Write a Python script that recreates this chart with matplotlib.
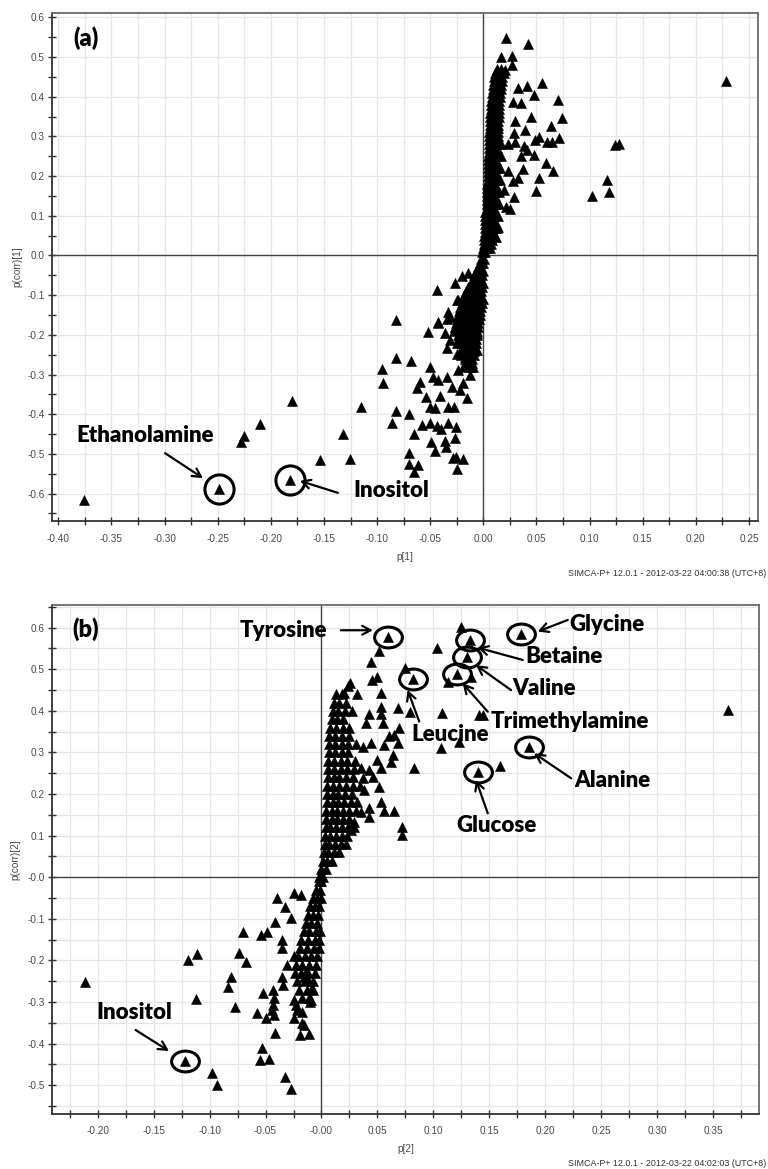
import matplotlib
matplotlib.use("Agg")
import matplotlib.pyplot as plt
from matplotlib.path import Path
from matplotlib.transforms import Affine2D
from matplotlib.ticker import FixedLocator, MultipleLocator

# ------------------------------------------------------------------ data (a)
a_scatter_x = [0.0214, 0.0421, 0.0164, 0.027, 0.027, 0.0132, 0.0207, 0.0553, 0.0327, 0.0408,
               0.0477, 0.0703, 0.0283, 0.0352, 0.0738, 0.0446, 0.0296, 0.0635, 0.039, 0.0289,
               0.0527, 0.049, 0.0597, 0.0647, 0.071, 0.0383, 0.0301, 0.0233, 0.0408, 0.0352,
               0.0477, 0.059, 0.0377, 0.0653, 0.0233, 0.0527, 0.0327, 0.0277, 0.0496, 0.0289,
               0.0195, 0.0251, 0.0214, 0.0141, 0.012, 0.228, 0.1237, 0.128, 0.116, 0.118,
               0.1024,
               -0.3757, -0.2279, -0.2253, -0.2105, -0.1804, -0.1538, -0.1255, -0.1318, -0.1152,
               -0.0942, -0.0957, -0.0822, -0.0822, -0.0822, -0.086, -0.0518, -0.0424, -0.0684,
               -0.0502, -0.0596, -0.0627, -0.054, -0.047, -0.0424, -0.0345, -0.0298, -0.0408,
               -0.0502, -0.0455, -0.0703, -0.065, -0.058, -0.0502, -0.0439, -0.0398, -0.033,
               -0.0257, -0.036, -0.0266, -0.0492, -0.0455, -0.0351, -0.0703, -0.0703, -0.065,
               -0.0612, -0.0288, -0.0245, -0.0188, -0.0257, -0.033, -0.028, -0.0156, -0.0219,
               -0.0125, -0.0188, -0.0235, -0.0094, -0.011, -0.0062, -0.0172, -0.025, -0.0345,
               -0.0314, -0.022, -0.036, -0.0156, -0.0266, -0.0188, -0.011, -0.0314, -0.0062,
               -0.022, -0.0141, -0.0078, -0.025, -0.0439, -0.0266, -0.0204, -0.0141, -0.0235,
               -0.033, -0.0424, -0.0345]
a_scatter_y = [0.549, 0.534, 0.500, 0.502, 0.479, 0.462, 0.467, 0.435, 0.421, 0.426,
               0.404, 0.391, 0.387, 0.384, 0.346, 0.349, 0.339, 0.327, 0.317, 0.309,
               0.299, 0.290, 0.287, 0.287, 0.295, 0.277, 0.285, 0.282, 0.265, 0.250,
               0.252, 0.233, 0.219, 0.212, 0.212, 0.196, 0.196, 0.187, 0.163, 0.148,
               0.164, 0.118, 0.122, 0.072, 0.047, 0.439, 0.279, 0.282, 0.191, 0.159,
               0.150,
               -0.615, -0.4695, -0.455, -0.4257, -0.367, -0.5156, -0.514, -0.451, -0.383,
               -0.321, -0.2864, -0.2595, -0.163, -0.391, -0.4216, -0.1924, -0.169, -0.2655,
               -0.2806, -0.318, -0.335, -0.356, -0.307, -0.314, -0.3057, -0.331, -0.354,
               -0.381, -0.385, -0.400, -0.450, -0.4275, -0.4232, -0.430, -0.436, -0.423,
               -0.4317, -0.467, -0.461, -0.4695, -0.492, -0.482, -0.4988, -0.5257, -0.545,
               -0.528, -0.511, -0.539, -0.514, -0.507, -0.381, -0.381, -0.360, -0.339,
               -0.3015, -0.3224, -0.289, -0.2806, -0.247, -0.2385, -0.2554, -0.247, -0.234,
               -0.2134, -0.2217, -0.1965, -0.1965, -0.1798, -0.1713, -0.167, -0.1546, -0.1965,
               -0.138, -0.121, -0.104, -0.1126, -0.0874, -0.069, -0.052, -0.045, -0.1126,
               -0.142, -0.167, -0.159]

# dense band of loadings close to the origin, read row by row
a_core_row_y = [0.47, 0.46, 0.45, 0.44, 0.43, 0.42, 0.41, 0.40, 0.39, 0.38, 0.37, 0.36, 0.35,
                0.34, 0.33, 0.32, 0.31, 0.30, 0.29, 0.28, 0.27, 0.26, 0.25, 0.24, 0.23, 0.22,
                0.21, 0.20, 0.19, 0.18, 0.17, 0.16, 0.15, 0.14, 0.13, 0.12, 0.11, 0.10, 0.09,
                0.08, 0.07, 0.06, 0.05, 0.04, 0.03, 0.02, 0.01,
                -0.01, -0.02, -0.03, -0.04, -0.05, -0.06, -0.07, -0.08, -0.09, -0.10, -0.11,
                -0.12, -0.13, -0.14, -0.15, -0.16, -0.17, -0.18, -0.19, -0.20, -0.21, -0.22,
                -0.23, -0.24, -0.25, -0.26, -0.27, -0.28]
a_core_row_x = [[0.013, 0.017], [0.011, 0.015, 0.019], [0.010, 0.014, 0.018], [0.010, 0.014, 0.018],
                [0.009, 0.013, 0.017], [0.009, 0.013, 0.017], [0.008, 0.012, 0.016],
                [0.008, 0.012, 0.016], [0.007, 0.011, 0.015], [0.007, 0.011, 0.015],
                [0.007, 0.011, 0.015], [0.006, 0.010, 0.015], [0.006, 0.010, 0.015],
                [0.006, 0.010, 0.014], [0.006, 0.010, 0.014], [0.006, 0.010, 0.014],
                [0.005, 0.009, 0.014], [0.005, 0.009, 0.014], [0.005, 0.009, 0.013],
                [0.005, 0.009, 0.013, 0.017], [0.005, 0.009, 0.013], [0.005, 0.009, 0.013],
                [0.004, 0.008, 0.013, 0.017], [0.004, 0.008, 0.012], [0.004, 0.008, 0.012],
                [0.004, 0.008, 0.012, 0.016], [0.004, 0.008, 0.012], [0.004, 0.008, 0.012],
                [0.004, 0.008, 0.012, 0.016], [0.003, 0.007, 0.011], [0.003, 0.007, 0.011],
                [0.003, 0.007, 0.011, 0.015], [0.003, 0.007, 0.011], [0.003, 0.007, 0.011],
                [0.003, 0.007, 0.011, 0.015], [0.003, 0.006, 0.010], [0.002, 0.006, 0.010],
                [0.002, 0.006, 0.010, 0.014], [0.002, 0.006, 0.010], [0.002, 0.005, 0.009],
                [0.002, 0.005, 0.009, 0.013], [0.002, 0.005, 0.009], [0.001, 0.005, 0.008],
                [0.001, 0.004, 0.008], [0.001, 0.004, 0.007], [0.000, 0.003, 0.006],
                [-0.001, 0.002],
                [-0.002, 0.001], [-0.003, 0.000], [-0.005, -0.002], [-0.007, -0.003, 0.000],
                [-0.009, -0.005, -0.001], [-0.010, -0.006, -0.002], [-0.012, -0.008, -0.004, 0.000],
                [-0.014, -0.010, -0.005, -0.001], [-0.016, -0.011, -0.007, -0.002],
                [-0.018, -0.013, -0.008, -0.003], [-0.019, -0.014, -0.009, -0.004, 0.000],
                [-0.020, -0.015, -0.010, -0.005, -0.001], [-0.022, -0.017, -0.012, -0.007, -0.002],
                [-0.023, -0.018, -0.013, -0.008, -0.003], [-0.024, -0.019, -0.014, -0.009, -0.003],
                [-0.025, -0.020, -0.015, -0.010, -0.004], [-0.026, -0.021, -0.016, -0.011, -0.005],
                [-0.027, -0.022, -0.016, -0.011, -0.005], [-0.028, -0.022, -0.017, -0.012, -0.006],
                [-0.024, -0.018, -0.012, -0.006], [-0.024, -0.018, -0.012, -0.007],
                [-0.025, -0.019, -0.013, -0.007], [-0.020, -0.014, -0.008],
                [-0.021, -0.015, -0.009], [-0.021, -0.015, -0.009], [-0.017, -0.011],
                [-0.017, -0.011], [-0.018, -0.012]]

a_named = ["Ethanolamine", "Inositol"]
a_named_x = [-0.2492, -0.182]
a_named_y = [-0.589, -0.566]

a_xticks = [-0.40, -0.35, -0.30, -0.25, -0.20, -0.15, -0.10, -0.05, 0.00, 0.05, 0.10, 0.15, 0.20, 0.25]
a_xticklabels = ["-0.40", "-0.35", "-0.30", "-0.25", "-0.20", "-0.15", "-0.10", "-0.05",
                 "0.00", "0.05", "0.10", "0.15", "0.20", "0.25"]
a_yticks = [-0.6, -0.5, -0.4, -0.3, -0.2, -0.1, 0.0, 0.1, 0.2, 0.3, 0.4, 0.5, 0.6]
a_yticklabels = ["-0.6", "-0.5", "-0.4", "-0.3", "-0.2", "-0.1", "0.0",
                 "0.1", "0.2", "0.3", "0.4", "0.5", "0.6"]

# ------------------------------------------------------------------ data (b)
b_scatter_x = [0.1246, 0.1031, 0.1335, 0.1127, 0.0745, 0.1073, 0.141, 0.144, 0.123, 0.1067,
               0.1595, 0.0828, 0.0685, 0.0793, 0.0716, 0.0716, 0.065, 0.056, 0.0515, 0.0441,
               0.050, 0.045, 0.053, 0.0256, 0.0202, 0.0316, 0.053, 0.053, 0.0545, 0.0426,
               0.0694, 0.0605, 0.065, 0.068, 0.0441, 0.0367, 0.0396, 0.056, 0.0635, 0.062,
               0.050, 0.035, 0.0426, 0.053, 0.0367, 0.0456, 0.0515, 0.038, 0.053, 0.0426,
               0.0426, 0.0352, 0.0292, 0.0262, 0.363,
               -0.2117, -0.119, -0.1115, -0.1124, -0.0701, -0.0737, -0.0677, -0.0805, -0.0832,
               -0.0773, -0.0981, -0.0936, -0.0534, -0.0552, -0.0469, -0.0326, -0.0275, -0.0572,
               -0.0498, -0.0519, -0.043, -0.0424, -0.0415, -0.0543, -0.0483, -0.0418, -0.040,
               -0.0328, -0.0245, -0.0185, -0.0275, -0.0355, -0.0349, -0.031, -0.0355, -0.034,
               -0.0424, -0.043, -0.0438, -0.0245, -0.023, -0.0215, -0.017, -0.0245, -0.017,
               -0.0156, -0.0191, -0.0111, -0.0081, -0.009, -0.0102, -0.0156, -0.014, -0.0125,
               -0.0245]
b_scatter_y = [0.6026, 0.552, 0.4824, 0.470, 0.504, 0.394, 0.390, 0.389, 0.326, 0.310,
               0.2685, 0.262, 0.406, 0.398, 0.122, 0.1017, 0.159, 0.159, 0.544, 0.5185,
               0.4825, 0.474, 0.442, 0.466, 0.442, 0.440, 0.410, 0.392, 0.370, 0.392,
               0.360, 0.3406, 0.342, 0.322, 0.322, 0.312, 0.370, 0.318, 0.294, 0.276,
               0.282, 0.262, 0.258, 0.262, 0.238, 0.242, 0.218, 0.210, 0.182, 0.166,
               0.146, 0.158, 0.134, 0.114, 0.402,
               -0.2507, -0.1988, -0.185, -0.2925, -0.132, -0.1827, -0.2043, -0.2387, -0.2644,
               -0.311, -0.471, -0.499, -0.4094, -0.4391, -0.4367, -0.479, -0.509, -0.327,
               -0.339, -0.277, -0.271, -0.331, -0.375, -0.1387, -0.132, -0.1065, -0.0488,
               -0.0704, -0.0385, -0.0425, -0.0986, -0.1507, -0.1707, -0.2108, -0.2387, -0.2589,
               -0.2909, -0.307, -0.319, -0.295, -0.307, -0.319, -0.323, -0.339, -0.351,
               -0.355, -0.379, -0.377, -0.267, -0.295, -0.299, -0.2387, -0.2267, -0.247,
               -0.190]

b_core_row_y = [0.46, 0.44, 0.42, 0.40, 0.38, 0.36, 0.34, 0.32, 0.30, 0.28, 0.26, 0.24, 0.22,
                0.20, 0.18, 0.16, 0.14, 0.12, 0.10, 0.08, 0.06, 0.04, 0.02, 0.0,
                -0.01, -0.03, -0.05, -0.07, -0.09, -0.11, -0.13, -0.15, -0.17, -0.19, -0.21,
                -0.23, -0.25, -0.27, -0.29]
b_core_row_x = [[0.024], [0.013, 0.018], [0.011, 0.016, 0.022], [0.010, 0.015, 0.021, 0.027],
                [0.009, 0.014, 0.019], [0.008, 0.013, 0.019, 0.025], [0.007, 0.012, 0.018, 0.025],
                [0.007, 0.012, 0.018, 0.024, 0.031], [0.007, 0.012, 0.018, 0.024],
                [0.006, 0.011, 0.017, 0.023, 0.030], [0.006, 0.011, 0.017, 0.023, 0.029],
                [0.006, 0.011, 0.016, 0.022, 0.028], [0.005, 0.010, 0.016, 0.022, 0.028, 0.034],
                [0.005, 0.010, 0.015, 0.021, 0.027], [0.005, 0.010, 0.015, 0.020, 0.026, 0.032],
                [0.004, 0.009, 0.014, 0.019, 0.025, 0.031], [0.004, 0.009, 0.014, 0.019, 0.025],
                [0.004, 0.008, 0.013, 0.018, 0.024, 0.029], [0.003, 0.008, 0.013, 0.018, 0.023],
                [0.003, 0.007, 0.012, 0.017, 0.022], [0.002, 0.006, 0.011, 0.016],
                [0.001, 0.005, 0.009], [0.000, 0.004], [-0.002, 0.001],
                [-0.002, 0.000], [-0.005, -0.001], [-0.008, -0.004, 0.000],
                [-0.010, -0.006, -0.002], [-0.012, -0.008, -0.003], [-0.014, -0.009, -0.004],
                [-0.016, -0.011, -0.005, -0.001], [-0.018, -0.012, -0.006, -0.002],
                [-0.019, -0.013, -0.007, -0.002], [-0.021, -0.015, -0.009, -0.004],
                [-0.023, -0.017, -0.011, -0.005], [-0.024, -0.018, -0.012, -0.006],
                [-0.022, -0.015, -0.008], [-0.020, -0.013, -0.008], [-0.017, -0.011]]

b_named = ["Tyrosine", "Glycine", "Betaine", "Valine", "Trimethylamine", "Leucine",
           "Alanine", "Glucose", "Inositol"]
b_named_x = [0.059, 0.178, 0.133, 0.130, 0.1207, 0.0814, 0.1857, 0.1395, -0.122]
b_named_y = [0.5786, 0.584, 0.5705, 0.5305, 0.4888, 0.4767, 0.3125, 0.2524, -0.4416]

b_xticks = [-0.20, -0.15, -0.10, -0.05, 0.00, 0.05, 0.10, 0.15, 0.20, 0.25, 0.30, 0.35]
b_xticklabels = ["-0.20", "-0.15", "-0.10", "-0.05", "-0.00", "0.05", "0.10", "0.15",
                 "0.20", "0.25", "0.30", "0.35"]
b_yticks = [-0.5, -0.4, -0.3, -0.2, -0.1, 0.0, 0.1, 0.2, 0.3, 0.4, 0.5, 0.6]
b_yticklabels = ["-0.5", "-0.4", "-0.3", "-0.2", "-0.1", "-0.0", "0.1", "0.2", "0.3",
                 "0.4", "0.5", "0.6"]


def flatten(row_y, row_x):
    xs, ys = [], []
    for yv, xr in zip(row_y, row_x):
        for xv in xr:
            xs.append(xv)
            ys.append(yv)
    return xs, ys


# ------------------------------------------------------------------ figure
W, H = 768, 1169
fig = plt.figure(figsize=(W / 100, H / 100), dpi=100)
TICKFONT = "Liberation Sans"
LABFONT = "Lato"
ellipse_marker = Path.unit_circle().transformed(Affine2D().scale(1.0, 0.75))


def setup_axes(ax, xlim, ylim, xt, xtl, yt, ytl, xlab, ylab, hgrid_minor):
    ax.set_xlim(*xlim)
    ax.set_ylim(*ylim)
    ax.xaxis.set_major_locator(FixedLocator(xt))
    ax.set_xticklabels(xtl)
    ax.yaxis.set_major_locator(FixedLocator(yt))
    ax.set_yticklabels(ytl)
    ax.xaxis.set_minor_locator(MultipleLocator(0.025))
    ax.yaxis.set_minor_locator(MultipleLocator(0.05))
    ax.tick_params(which="both", direction="inout", length=6, width=1.0, color="#333333",
                   labelsize=7.2, labelcolor="#4a4a4a", top=False, right=False)
    ax.tick_params(axis="x", pad=6)
    ax.tick_params(axis="y", pad=2)
    for lab in ax.get_xticklabels() + ax.get_yticklabels():
        lab.set_fontfamily(TICKFONT)
    ax.grid(True, which="both", axis="x", color="#e6e6e6", lw=0.9)
    ax.grid(True, which="both" if hgrid_minor else "major", axis="y", color="#e6e6e6", lw=0.9)
    ax.set_axisbelow(True)
    for side in ["top", "right"]:
        ax.spines[side].set_color("#6a6a6a")
        ax.spines[side].set_linewidth(1.3)
    for side in ["left", "bottom"]:
        ax.spines[side].set_color("#333333")
        ax.spines[side].set_linewidth(1.3)
    ax.axhline(0, color="#444444", lw=1.0, zorder=1.5)
    ax.axvline(0, color="#444444", lw=1.0, zorder=1.5)
    ax.set_xlabel(xlab, fontsize=7.2, color="#4a4a4a", fontfamily=TICKFONT, va="center")
    ax.set_ylabel(ylab, fontsize=7.2, color="#4a4a4a", fontfamily=TICKFONT, va="center")


def tri(ax, xs, ys):
    ax.plot(xs, ys, linestyle="none", marker="^", ms=6.6, mfc="black", mec="black",
            mew=0.4, zorder=3)


def arrow(ax, start, end):
    ax.annotate("", xy=end, xytext=start,
                arrowprops=dict(arrowstyle="->,head_length=0.6,head_width=0.32",
                                color="black", lw=1.6, shrinkA=0, shrinkB=0), zorder=5)


def label(ax, txt, pos, ha="center"):
    ax.text(pos[0], pos[1], txt, ha=ha, va="center", fontsize=16, fontweight="heavy",
            fontfamily=LABFONT, color="black", zorder=6)


# ---------------- panel (a)
ax1 = fig.add_axes([52 / W, 1 - 521 / H, 706 / W, 508 / H])
setup_axes(ax1, (-0.406, 0.2585), (-0.669, 0.611), a_xticks, a_xticklabels,
           a_yticks, a_yticklabels, "p[1]", "p(corr)[1]", False)
ax1.xaxis.set_label_coords(0.5, -0.071)
ax1.yaxis.set_label_coords(-0.0496, 0.5)
cx, cy = flatten(a_core_row_y, a_core_row_x)
tri(ax1, cx, cy)
tri(ax1, a_scatter_x, a_scatter_y)
tri(ax1, a_named_x, a_named_y)
ax1.plot(a_named_x, a_named_y, linestyle="none", marker="o", ms=21, mfc="none",
         mec="black", mew=2.2, zorder=4)
ax1.text(0.048, 0.951, "(a)", transform=ax1.transAxes, ha="center", va="center",
         fontsize=17, fontweight="heavy", fontfamily=LABFONT)
label(ax1, "Ethanolamine", (-0.3186, -0.4526))
arrow(ax1, (-0.2996, -0.498), (-0.2639, -0.561))
label(ax1, "Inositol", (-0.122, -0.591), ha="left")
arrow(ax1, (-0.1369, -0.598), (-0.1727, -0.568))
fig.text(766 / W, 1 - 573 / H, "SIMCA-P+ 12.0.1 - 2012-03-22 04:00:38 (UTC+8)",
         ha="right", va="center", fontsize=6.4, color="#333333", fontfamily=TICKFONT)

# ---------------- panel (b)
ax2 = fig.add_axes([51.7 / W, 1 - 1114 / H, 707.3 / W, 509 / H])
setup_axes(ax2, (-0.241, 0.3908), (-0.569, 0.6545), b_xticks, b_xticklabels,
           b_yticks, b_yticklabels, "p[2]", "p(corr)[2]", True)
ax2.xaxis.set_label_coords(0.5, -0.069)
ax2.yaxis.set_label_coords(-0.052, 0.5)
cx, cy = flatten(b_core_row_y, b_core_row_x)
tri(ax2, cx, cy)
tri(ax2, b_scatter_x, b_scatter_y)
tri(ax2, b_named_x, b_named_y)
ax2.plot(b_named_x, b_named_y, linestyle="none", marker=ellipse_marker, ms=20, mfc="none",
         mec="black", mew=2.2, zorder=4)
ax2.text(0.0485, 0.953, "(b)", transform=ax2.transAxes, ha="center", va="center",
         fontsize=17, fontweight="heavy", fontfamily=LABFONT)

b_text_pos = [(-0.0342, 0.5938), (0.2552, 0.608), (0.2163, 0.531), (0.1988, 0.4543),
              (0.2216, 0.375), (0.1152, 0.3438), (0.2601, 0.2332), (0.1559, 0.125),
              (-0.1674, -0.3245)]
b_arrow_start = [(0.0173, 0.5938), (0.22, 0.6185), (0.1798, 0.5224), (0.1693, 0.450),
                 (0.1485, 0.398), (0.0873, 0.3743), (0.223, 0.238), (0.1485, 0.1538),
                 (-0.1661, -0.367)]
b_arrow_end = [(0.0459, 0.5938), (0.1932, 0.5906), (0.1395, 0.552), (0.138, 0.510),
               (0.1261, 0.4663), (0.0769, 0.4502), (0.190, 0.298), (0.138, 0.234),
               (-0.1363, -0.4175)]
for name, tp, s, e in zip(b_named, b_text_pos, b_arrow_start, b_arrow_end):
    label(ax2, name, tp)
    arrow(ax2, s, e)

fig.text(766 / W, 1 - 1164 / H, "SIMCA-P+ 12.0.1 - 2012-03-22 04:02:03 (UTC+8)",
         ha="right", va="center", fontsize=6.4, color="#333333", fontfamily=TICKFONT)

fig.savefig("out.png", dpi=100)
